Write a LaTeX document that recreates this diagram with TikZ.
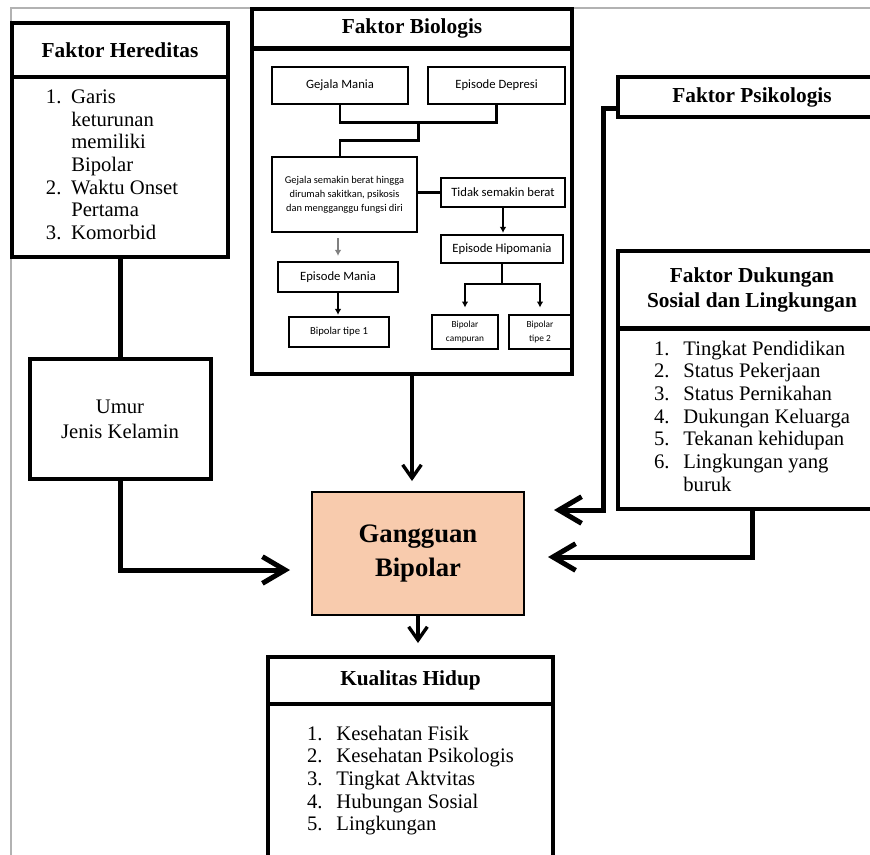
\documentclass[tikz,border=0pt]{standalone}
\usepackage{fontspec}
\setmainfont{Liberation Serif}
\newfontfamily\calfont{Carlito}
\usetikzlibrary{arrows.meta,calc}

\definecolor{peach}{HTML}{F8CBAD}

\tikzset{
  wh/.style 2 args={minimum width=#1*0.75pt, minimum height=#2*0.75pt},
  hdr/.style={draw, line width=3pt, inner sep=0pt, align=center,
    font=\rmfamily\bfseries\fontsize{16}{19}\selectfont},
  lst/.style={draw, line width=3pt, inner sep=0pt, align=center,
    font=\rmfamily\fontsize{15.5}{17}\selectfont},
  sub/.style={draw, line width=1.2pt, inner sep=0pt, align=center,
    font=\calfont\fontsize{9.5}{11}\selectfont},
  bigarrow/.style={line width=3.75pt, -{Straight Barb[length=17pt,width=20pt]}},
  downarrow/.style={line width=2.5pt, -{Straight Barb[length=10pt,width=14pt]}},
  link/.style={line width=2pt},
  smallarrow/.style={line width=1pt, -{Latex[length=4.5pt,width=5pt]}}
}

\begin{document}
\begin{tikzpicture}[x=0.75pt, y=-0.75pt]
    \useasboundingbox (0,0) rectangle (870,854);
    \clip (0,0) rectangle (870,854);

    % page frame
    \draw[gray!60, line width=1.2pt] (11,870) -- (11,8) -- (880,8);

    % Faktor Hereditas
    \node[hdr, wh={216}{54}] (heredhead) at (120,50) {Faktor Hereditas};
    \node[lst, wh={216}{180}] (heredbody) at (120,167) {%
        \begin{tabular}{@{}p{19pt}@{}l@{\hspace{12pt}}}
        1. & Garis\\ & keturunan\\ & memiliki\\ & Bipolar\\
        2. & Waktu Onset\\ & Pertama\\
        3. & Komorbid
        \end{tabular}};
    \node[lst, wh={181}{120}, font=\rmfamily\fontsize{15.5}{19}\selectfont] (umur) at (120,419) {Umur\\Jenis Kelamin};

    % Faktor Biologis
    \node[hdr, wh={320}{40}] (biolhead) at (412,28.5) {Faktor Biologis};
    \node[lst, wh={320}{326}] (biolbody) at (412,211) {};

    \node[sub, wh={136}{37}] (mania) at (340,85.5) {Gejala Mania};
    \node[sub, wh={137}{37}] (depresi) at (496.5,85.5) {Episode Depresi};
    \node[sub, wh={145}{75}, font=\calfont\fontsize{7.8}{10.5}\selectfont] (berat) at (344.5,194.5)
        {Gejala semakin berat hingga\\dirumah sakitkan, psikosis\\dan mengganggu fungsi diri};
    \node[sub, wh={124}{29}] (tidak) at (503,192.5) {Tidak semakin berat};
    \node[sub, wh={122}{28}] (hipo) at (502,249) {Episode Hipomania};
    \node[sub, wh={120}{30}] (epmania) at (338,277) {Episode Mania};
    \node[sub, wh={100}{30}, font=\calfont\fontsize{8}{10}\selectfont] (tipe1) at (339,332) {Bipolar tipe 1};
    \node[sub, wh={66}{34}, font=\calfont\fontsize{7}{11}\selectfont] (campur) at (465,332) {Bipolar\\campuran};
    \node[sub, wh={62}{34}, font=\calfont\fontsize{7}{11}\selectfont] (tipe2) at (540,332) {Bipolar\\tipe 2};

    \draw[link] (mania.south) -- ++(0,18) -| (depresi.south);
    \coordinate (mj) at ($(mania.south)!0.5!(depresi.south)+(0,18)$);
    \draw[link] (mj) -- ++(0,18) -| (mania.south |- berat.north);
    \draw[link] (tidak.west -| berat.east) -- (tidak.west);
    \draw[smallarrow, shorten >=1pt] (tidak.south) -- (tidak.south |- hipo.north);
    \draw[smallarrow, gray, shorten <=4pt, shorten >=4pt] (epmania.north |- berat.south) -- (epmania.north);
    \draw[smallarrow, line width=1.5pt, shorten >=1pt] (epmania.south) -- (epmania.south |- tipe1.north);
    \draw[link] (hipo.south) -- ++(0,20) coordinate (hj);
    \draw[smallarrow, line width=1.8pt, shorten >=5pt] (hj) -| (campur.north);
    \draw[smallarrow, line width=1.8pt, shorten >=5pt] (hj) -| (tipe2.north);

    % Gangguan Bipolar
    \node[draw, line width=1.5pt, fill=peach, wh={212}{123}, align=center,
        font=\rmfamily\bfseries\fontsize{20}{25}\selectfont] (gangguan) at (418,553.5) {Gangguan\\Bipolar};

    % Faktor Psikologis
    \node[hdr, wh={268}{40}] (psiko) at (752,97) {Faktor Psikologis};

    % Faktor Dukungan Sosial dan Lingkungan
    \node[hdr, wh={268}{78}] (dukhead) at (752,290) {Faktor Dukungan\\Sosial dan Lingkungan};
    \node[lst, wh={268}{181}] (dukbody) at (752,418.5) {%
        \begin{tabular}{@{}p{22pt}@{}l@{}}
        1. & Tingkat Pendidikan\\
        2. & Status Pekerjaan\\
        3. & Status Pernikahan\\
        4. & Dukungan Keluarga\\
        5. & Tekanan kehidupan\\
        6. & Lingkungan yang\\ & buruk
        \end{tabular}};

    % Kualitas Hidup
    \node[hdr, wh={285}{47}] (kualhead) at (410.5,680.5) {Kualitas Hidup};
    \node[lst, wh={285}{154}] (kualbody) at (410.5,781) {%
        \begin{tabular}{@{}p{22pt}@{}l@{}}
        1. & Kesehatan Fisik\\
        2. & Kesehatan Psikologis\\
        3. & Tingkat Aktvitas\\
        4. & Hubungan Sosial\\
        5. & Lingkungan
        \end{tabular}};

    % connectors
    \draw[line width=3.75pt] (heredbody.south) -- (umur.north);
    \draw[bigarrow] (umur.south) |- ($(gangguan.west)+(-21,16.5)$);
    \draw[downarrow, shorten >=7.5pt] (biolbody.south) -- (biolbody.south |- gangguan.north);
    \draw[downarrow, shorten >=9pt] (gangguan.south) -- (gangguan.south |- kualhead.north);
    \draw[bigarrow] ($(psiko.west)+(0,11)$) -| ($(gangguan.east)+(78,-43.5)$) -- ($(gangguan.east)+(29,-43.5)$);
    \draw[bigarrow] (dukbody.south) |- ($(gangguan.east)+(23,3.5)$);

\end{tikzpicture}
\end{document}
